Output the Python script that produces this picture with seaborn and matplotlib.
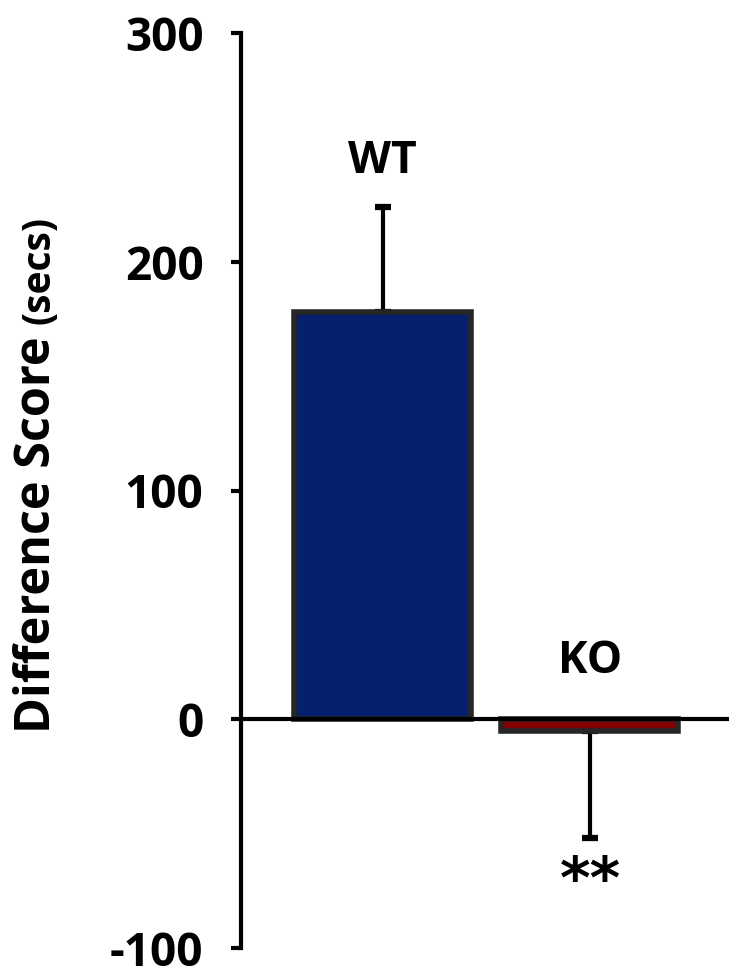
import matplotlib
matplotlib.use("Agg")
import matplotlib.pyplot as plt
import seaborn as sns
import pandas as pd

groups = ["WT", "KO"]
means = [178, -5]
sem_upper = [46, 0]
sem_lower = [0, 47]
bar_colors = ["#06206e", "#820000"]
y_ticks = [-100, 0, 100, 200, 300]
significance = ["", "**"]

sns.set_theme(style="white")
plt.rcParams["font.family"] = ["Open Sans", "DejaVu Sans"]
plt.rcParams["font.weight"] = "bold"

df = pd.DataFrame({"group": groups, "mean": means})

fig = plt.figure(figsize=(7.29, 9.69), dpi=100)
ax = fig.add_axes([241 / 729, 21 / 969, 1 - 241 / 729, 915 / 969])

sns.barplot(data=df, x="group", y="mean", hue="group", palette=bar_colors,
            saturation=1, edgecolor="#262626", linewidth=4, width=0.853,
            errorbar=None, legend=False, ax=ax, zorder=2)

ax.errorbar([0, 1], means, yerr=[sem_lower, sem_upper], fmt="none",
            ecolor="black", elinewidth=3, capsize=6, capthick=4.5, zorder=1)

ax.set_ylim(-100, 300)
ax.set_xlim(-0.682, 1.67)
ax.set_yticks(y_ticks)
ax.set_yticklabels([str(t) for t in y_ticks], fontsize=33, fontweight="bold")
ax.tick_params(axis="y", direction="out", length=7, width=3, pad=20, left=True, colors="black")
ax.tick_params(axis="x", bottom=False, labelbottom=False)
ax.set_xlabel("")
ax.set_ylabel("")

for s in ["top", "right"]:
    ax.spines[s].set_visible(False)
ax.spines["left"].set_linewidth(3)
ax.spines["left"].set_color("black")
ax.spines["bottom"].set_position(("data", 0))
ax.spines["bottom"].set_linewidth(3)
ax.spines["bottom"].set_color("black")
ax.spines["bottom"].set_zorder(3)

label_y = [238.7, 20.1]
for i, g in enumerate(groups):
    ax.text(i, label_y[i], g, ha="center", va="baseline", fontsize=32,
            fontweight="bold", color="black")
ax.text(1, -78, significance[1], ha="center", va="baseline", fontsize=42,
        fontweight="bold", color="black", family=["DejaVu Sans"])

t1 = fig.text(50 / 729, 1 - 733 / 969, "Difference Score", rotation=90,
              rotation_mode="anchor", ha="left", va="baseline", fontsize=35,
              fontweight="bold", color="black")
fig.canvas.draw()
bb = t1.get_window_extent(fig.canvas.get_renderer())
top_px = bb.y1 + 12
fig.text(50 / 729, top_px / fig.bbox.height, "(secs)", rotation=90,
         rotation_mode="anchor", ha="left", va="baseline", fontsize=28,
         fontweight="bold", color="black")

fig.savefig("out.png", dpi=100)
